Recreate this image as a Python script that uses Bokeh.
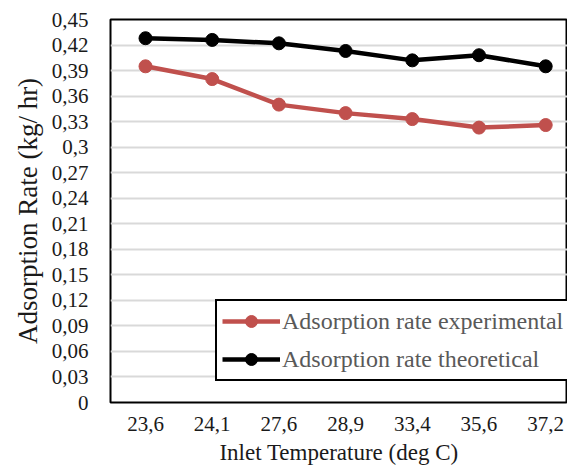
from bokeh.plotting import figure
from bokeh.models import Range1d, FixedTicker, Legend, LegendItem
from bokeh.embed import file_html
from bokeh.resources import INLINE

categories = ["23,6", "24,1", "27,6", "28,9", "33,4", "35,6", "37,2"]
experimental = [0.395, 0.380, 0.350, 0.340, 0.333, 0.323, 0.326]
theoretical = [0.428, 0.426, 0.422, 0.413, 0.402, 0.408, 0.395]
y_ticks = [0, 0.03, 0.06, 0.09, 0.12, 0.15, 0.18, 0.21, 0.24, 0.27, 0.30, 0.33, 0.36, 0.39, 0.42, 0.45]
y_tick_labels = ["0", "0,03", "0,06", "0,09", "0,12", "0,15", "0,18", "0,21", "0,24", "0,27",
                 "0,3", "0,33", "0,36", "0,39", "0,42", "0,45"]

x = list(range(len(categories)))

FONT = "'Liberation Serif'"
RED = "#C0504D"

p = figure(width=567, height=475, output_backend="svg", toolbar_location=None,
           x_range=Range1d(-0.525, 6.327), y_range=Range1d(0, 0.45),
           min_border_left=110, min_border_top=19, min_border_right=0, min_border_bottom=73)

p.background_fill_color = "white"
p.border_fill_color = "white"
p.outline_line_color = "black"
p.outline_line_width = 2

p.xgrid.grid_line_color = None
p.ygrid.grid_line_color = "#d9d9d9"
p.ygrid.grid_line_width = 2

p.xaxis.ticker = FixedTicker(ticks=x)
p.xaxis.major_label_overrides = {i: lab for i, lab in zip(x, categories)}
p.yaxis.ticker = FixedTicker(ticks=y_ticks)
p.yaxis.major_label_overrides = {t: lab for t, lab in zip(y_ticks, y_tick_labels)}

for ax in (p.xaxis[0], p.yaxis[0]):
    ax.axis_line_color = None
    ax.major_tick_line_color = None
    ax.minor_tick_line_color = None
    ax.major_tick_out = 0
    ax.major_tick_in = 0
    ax.major_label_text_font = FONT
    ax.major_label_text_font_size = "21px"
    ax.major_label_text_color = "#1a1a1a"
    ax.axis_label_text_font = FONT
    ax.axis_label_text_font_style = "normal"
    ax.axis_label_text_color = "#1a1a1a"

p.xaxis.axis_label = "Inlet Temperature (deg C)"
p.xaxis.axis_label_text_font_size = "23px"
p.xaxis.major_label_standoff = 14
p.xaxis.axis_label_standoff = 6
p.yaxis.axis_label = "Adsorption Rate (kg/ hr)"
p.yaxis.axis_label_text_font_size = "27px"
p.yaxis.major_label_standoff = 22
p.yaxis.axis_label_standoff = 6

r_exp_l = p.line(x, experimental, line_color=RED, line_width=4.5)
r_exp_s = p.scatter(x, experimental, size=13, fill_color=RED, line_color=RED)
r_th_l = p.line(x, theoretical, line_color="black", line_width=4.5)
r_th_s = p.scatter(x, theoretical, size=13, fill_color="black", line_color="black")

legend = Legend(items=[
    LegendItem(label="Adsorption rate experimental", renderers=[r_exp_l, r_exp_s]),
    LegendItem(label="Adsorption rate theoretical", renderers=[r_th_l, r_th_s]),
], location=(105, 21))
legend.label_text_font = FONT
legend.label_text_font_size = "24px"
legend.label_text_color = "#595959"
legend.border_line_color = "black"
legend.border_line_width = 2
legend.border_line_alpha = 1
legend.background_fill_alpha = 1
legend.padding = 5
legend.spacing = 8
legend.glyph_width = 58
legend.glyph_height = 30
legend.label_height = 30
legend.label_standoff = 2
legend.margin = 0
p.add_layout(legend, "center")

open("out.html", "w").write(file_html(p, INLINE))
